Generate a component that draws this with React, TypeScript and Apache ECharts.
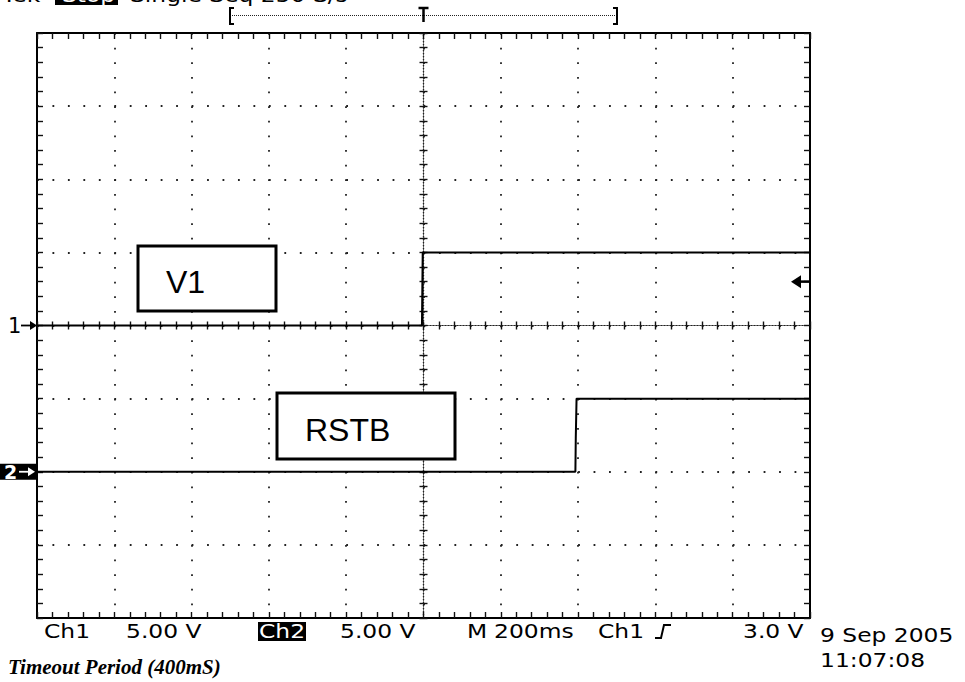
import React, { useEffect, useRef } from "react";
import * as echarts from "echarts";

const CH1_TIME_MS = [-1000, -4, -3, -2, 1000];
const CH1_VOLTS = [0, 0, 2.5, 5, 5];
const CH2_TIME_MS = [-1000, 393, 394, 396, 1000];
const CH2_VOLTS = [0, 0, 2.3, 5, 5];
const CH1_POSITION_DIV = 0;
const CH2_POSITION_DIV = -2;
const VOLTS_PER_DIV = 5;
const TRIGGER_LEVEL_V = 3.0;
const TIME_MIN_MS = -1000;
const TIME_MAX_MS = 1000;
const TIME_PER_DIV_MS = 200;
const DIV_MIN = -4;
const DIV_MAX = 4;

const HEADER_LEFT = "Tek";
const HEADER_STATUS = "Stop";
const HEADER_RIGHT = "Single Seq 250 S/s";
const FOOTER_ITEMS = ["Ch1", "5.00 V", "Ch2", "5.00 V", "M", "200ms", "Ch1", "3.0 V"];
const DATE_LINES = ["9 Sep 2005", "11:07:08"];
const CAPTION = "Timeout Period (400mS)";
const LABEL_CH1 = "V1";
const LABEL_CH2 = "RSTB";

// ---- layout ----
const GL = 37, GT = 33, GW = 773, GH = 585;
const divY = (d: number) => GT + ((DIV_MAX - d) / (DIV_MAX - DIV_MIN)) * GH;
const SCOPE_FONT = '"DejaVu Sans"';
const SX = 1.17;

function sText(text: string, x: number, y: number, fill = "#000", size = 20, scaleX = SX) {
  return {
    type: "text",
    x,
    y,
    scaleX,
    z: 100,
    style: {
      text,
      fill,
      fontSize: size,
      fontFamily: SCOPE_FONT,
      align: "left",
      textAlign: "left",
      verticalAlign: "middle",
      textVerticalAlign: "middle",
    },
  };
}

export default function App() {
  const ref = useRef<HTMLDivElement>(null);
  useEffect(() => {
    const chart = echarts.init(ref.current!, null, { renderer: "svg", width: 965, height: 682 });
    const ch1 = CH1_TIME_MS.map((t, i) => [t, CH1_VOLTS[i] / VOLTS_PER_DIV + CH1_POSITION_DIV]);
    const ch2 = CH2_TIME_MS.map((t, i) => [t, CH2_VOLTS[i] / VOLTS_PER_DIV + CH2_POSITION_DIV]);

    const rect = { left: GL, top: GT, width: GW, height: GH };
    const dot = "#222";
    const xAx = (gi: number, pos: string, onZero: boolean, inside: boolean, len: number, split: boolean, line: any) => ({
      type: "value", gridIndex: gi, min: TIME_MIN_MS, max: TIME_MAX_MS, interval: TIME_PER_DIV_MS,
      position: pos,
      axisLine: { show: true, onZero, lineStyle: line },
      axisTick: { show: true, inside, length: len, lineStyle: { color: "#111", width: 1.4 } },
      minorTick: { show: true, splitNumber: 5, length: len, lineStyle: { color: "#111", width: 1.4 } },
      axisLabel: { show: false },
      splitLine: { show: split, lineStyle: { color: dot, width: 1.8, type: [1.8, 12.825] } },
    });
    const yAx = (gi: number, pos: string, onZero: boolean, inside: boolean, len: number, split: boolean, line: any) => ({
      type: "value", gridIndex: gi, min: DIV_MIN, max: DIV_MAX, interval: 1,
      position: pos,
      axisLine: { show: true, onZero, lineStyle: line },
      axisTick: { show: true, inside, length: len, lineStyle: { color: "#111", width: 1.4 } },
      minorTick: { show: true, splitNumber: 5, length: len, lineStyle: { color: "#111", width: 1.4 } },
      axisLabel: { show: false },
      splitLine: { show: split, lineStyle: { color: dot, width: 1.8, type: [1.8, 13.66] } },
    });
    const border = () => ({ color: "#000", width: 2 });
    const center = () => ({ color: "#222", width: 1.2, type: [1, 2] });

    const centerXpx = GL + GW / 2;
    const trigY = divY(TRIGGER_LEVEL_V / VOLTS_PER_DIV + CH1_POSITION_DIV);
    const ch1Y = divY(CH1_POSITION_DIV);
    const ch2Y = divY(CH2_POSITION_DIV);
    const footY = 631;
    const lineBlack = { stroke: "#000", lineWidth: 2, fill: "none" };

    const graphic: any[] = [
      // header (cut off at top of the screen, as in the capture)
      sText(HEADER_LEFT, 2, -5),
      { type: "rect", z: 99, shape: { x: 55, y: -12, width: 63, height: 17 }, style: { fill: "#000" } },
      sText(HEADER_STATUS, 62, -5, "#fff"),
      sText(HEADER_RIGHT, 130, -5),
      // record bracket
      { type: "polyline", z: 100, shape: { points: [[234, 8], [230, 8], [230, 24], [234, 24]] }, style: lineBlack },
      { type: "line", z: 100, shape: { x1: 232, y1: 15.5, x2: 616, y2: 15.5 }, style: { stroke: "#222", lineWidth: 1.2, lineDash: [1, 1] } },
      { type: "polyline", z: 100, shape: { points: [[613, 8], [617, 8], [617, 24], [613, 24]] }, style: lineBlack },
      { type: "line", z: 100, shape: { x1: centerXpx - 5, y1: 8, x2: centerXpx + 5, y2: 8 }, style: { stroke: "#000", lineWidth: 2.5 } },
      { type: "line", z: 100, shape: { x1: centerXpx, y1: 8, x2: centerXpx, y2: 22 }, style: { stroke: "#000", lineWidth: 2.5 } },
      // channel 1 marker
      { type: "text", x: 8, y: ch1Y, z: 100, style: { text: "1", fill: "#000", fontSize: 21, fontFamily: SCOPE_FONT, verticalAlign: "middle", textVerticalAlign: "middle" } },
      { type: "line", z: 100, shape: { x1: 21, y1: ch1Y, x2: 31, y2: ch1Y }, style: { stroke: "#000", lineWidth: 1.8 } },
      { type: "polygon", z: 100, shape: { points: [[37, ch1Y], [30, ch1Y - 4.5], [30, ch1Y + 4.5]] }, style: { fill: "#000" } },
      // channel 2 marker
      { type: "rect", z: 99, shape: { x: 0, y: ch2Y - 8, width: 37, height: 16 }, style: { fill: "#000" } },
      { type: "text", x: 4, y: ch2Y, z: 100, style: { text: "2", fill: "#fff", fontSize: 19, fontWeight: "bold", fontFamily: SCOPE_FONT, verticalAlign: "middle", textVerticalAlign: "middle" } },
      { type: "line", z: 100, shape: { x1: 19, y1: ch2Y, x2: 29, y2: ch2Y }, style: { stroke: "#fff", lineWidth: 1.8 } },
      { type: "polygon", z: 100, shape: { points: [[35, ch2Y], [28, ch2Y - 4.5], [28, ch2Y + 4.5]] }, style: { fill: "#fff" } },
      // trigger level arrow
      { type: "polygon", z: 100, shape: { points: [[791, trigY], [801, trigY - 6.5], [801, trigY + 6.5]] }, style: { fill: "#000" } },
      { type: "line", z: 100, shape: { x1: 800, y1: trigY, x2: 810, y2: trigY }, style: { stroke: "#000", lineWidth: 2.5 } },
      // annotation boxes
      { type: "rect", z: 100, shape: { x: 138, y: 246, width: 138, height: 65 }, style: { fill: "#fff", stroke: "#000", lineWidth: 3 } },
      { type: "text", x: 166, y: 282, z: 101, style: { text: LABEL_CH1, fill: "#000", fontSize: 32, fontFamily: '"Liberation Sans"', verticalAlign: "middle", textVerticalAlign: "middle" } },
      { type: "rect", z: 100, shape: { x: 277, y: 393, width: 178, height: 66 }, style: { fill: "#fff", stroke: "#000", lineWidth: 3 } },
      { type: "text", x: 305, y: 430, z: 101, style: { text: LABEL_CH2, fill: "#000", fontSize: 32, fontFamily: '"Liberation Sans"', verticalAlign: "middle", textVerticalAlign: "middle" } },
      // footer readout
      sText(FOOTER_ITEMS[0], 44, footY),
      sText(FOOTER_ITEMS[1], 126, footY),
      { type: "rect", z: 99, shape: { x: 258, y: 622, width: 48, height: 19 }, style: { fill: "#000" } },
      sText(FOOTER_ITEMS[2], 259, footY, "#fff"),
      sText(FOOTER_ITEMS[3], 340, footY),
      sText(FOOTER_ITEMS[4], 467, footY),
      sText(FOOTER_ITEMS[5], 494, footY),
      sText(FOOTER_ITEMS[6], 598, footY),
      { type: "polyline", z: 100, shape: { points: [[655, 638], [661, 638], [664, 625], [671, 625]] }, style: lineBlack },
      sText(FOOTER_ITEMS[7], 743, footY),
      sText(DATE_LINES[0], 820, 635.5),
      sText(DATE_LINES[1], 820, 660.5),
      {
        type: "text", x: 8, y: 667, z: 100,
        style: { text: CAPTION, fill: "#000", fontSize: 21, fontStyle: "italic", fontWeight: "bold", fontFamily: '"Liberation Serif"', verticalAlign: "middle", textVerticalAlign: "middle" },
      },
    ];

    const option: any = {
      animation: false,
      backgroundColor: "#fff",
      grid: [{ ...rect }, { ...rect }, { ...rect }, { ...rect }],
      xAxis: [
        xAx(0, "bottom", false, true, 6, true, border()),
        xAx(1, "bottom", true, true, 4, false, center()),
        xAx(2, "bottom", true, false, 4, false, center()),
        xAx(3, "top", false, true, 6, false, border()),
      ],
      yAxis: [
        yAx(0, "left", false, true, 6, true, border()),
        yAx(1, "left", true, true, 4, false, center()),
        yAx(2, "left", true, false, 4, false, center()),
        yAx(3, "right", false, true, 6, false, border()),
      ],
      series: [
        { type: "line", name: "Ch1", xAxisIndex: 0, yAxisIndex: 0, data: ch1, symbol: "none", silent: true, z: 5, lineStyle: { color: "#000", width: 2 } },
        { type: "line", name: "Ch2", xAxisIndex: 0, yAxisIndex: 0, data: ch2, symbol: "none", silent: true, z: 5, lineStyle: { color: "#000", width: 2 } },
      ],
      graphic,
    };
    chart.setOption(option);
    return () => chart.dispose();
  }, []);
  return <div ref={ref} style={{ position: "fixed", left: 0, top: 0, width: 965, height: 682, background: "#fff" }} />;
}
